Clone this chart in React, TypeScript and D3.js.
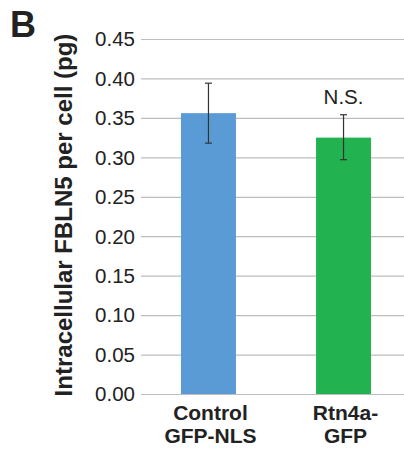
import { useEffect, useRef } from 'react';
import * as d3 from 'd3';

const categories = ['Control\nGFP-NLS', 'Rtn4a-\nGFP'];
const means = [0.356, 0.325];
const errLow = [0.318, 0.297];
const errHigh = [0.394, 0.354];
const barColors = ['#5b9bd5', '#22b24f'];
const yTicks = [0, 0.05, 0.1, 0.15, 0.2, 0.25, 0.3, 0.35, 0.4, 0.45];
const annotations = ['', 'N.S.'];

const App = () => {
    const ref = useRef<SVGSVGElement>(null);

    useEffect(() => {
        const width = 404;
        const height = 452;
        const marginLeft = 141;
        const svg = d3.select(ref.current);
        svg.selectAll('*').remove();
        svg.attr('width', width).attr('height', height)
            .style('font-family', '"Liberation Sans", Arial, sans-serif');

        const x = d3.scaleBand()
            .domain(categories)
            .range([marginLeft, marginLeft + 270])
            .paddingInner(0.593)
            .paddingOuter(0.296);

        const y = d3.scaleLinear()
            .domain([0, 0.45])
            .range([394, 39]);

        // gridlines
        svg.append('g')
            .selectAll('line')
            .data(yTicks)
            .join('line')
            .attr('x1', marginLeft)
            .attr('x2', width)
            .attr('y1', d => y(d) + 0.5)
            .attr('y2', d => y(d) + 0.5)
            .attr('stroke', '#bdbdbd')
            .attr('stroke-width', 1.2);

        svg.append('g')
            .selectAll('text')
            .data(yTicks)
            .join('text')
            .attr('x', 135)
            .attr('y', d => y(d))
            .attr('dy', '0.36em')
            .attr('text-anchor', 'end')
            .attr('font-size', 20.5)
            .attr('fill', '#222')
            .text(d => d.toFixed(2));

        // bars
        svg.append('g')
            .selectAll('rect')
            .data(means)
            .join('rect')
            .attr('x', (d, i) => x(categories[i])!)
            .attr('width', x.bandwidth())
            .attr('y', d => y(d))
            .attr('height', d => y(0) - y(d))
            .attr('fill', (d, i) => barColors[i]);

        // error bars
        const eb = svg.append('g')
            .attr('stroke', '#333')
            .attr('stroke-width', 1.2);
        categories.forEach((c, i) => {
            const cx = x(c)! + x.bandwidth() / 2;
            eb.append('line').attr('x1', cx).attr('x2', cx)
                .attr('y1', y(errLow[i])).attr('y2', y(errHigh[i]));
            [errLow[i], errHigh[i]].forEach(v => {
                eb.append('line').attr('x1', cx - 3.5).attr('x2', cx + 3.5)
                    .attr('y1', y(v)).attr('y2', y(v));
            });
            if (annotations[i]) {
                svg.append('text')
                    .attr('x', cx)
                    .attr('y', y(errHigh[i]) - 11)
                    .attr('text-anchor', 'middle')
                    .attr('font-size', 20.5)
                    .attr('fill', '#222')
                    .text(annotations[i]);
            }
            const lines = c.split('\n');
            lines.forEach((l, j) => {
                svg.append('text')
                    .attr('x', cx + 2)
                    .attr('y', 420 + j * 23.3)
                    .attr('text-anchor', 'middle')
                    .attr('font-size', 21)
                    .attr('font-weight', 'bold')
                    .attr('fill', '#222')
                    .text(l);
            });
        });

        svg.append('text')
            .attr('transform', `translate(72,215) rotate(-90)`)
            .attr('text-anchor', 'middle')
            .attr('font-size', 24)
            .attr('font-weight', 'bold')
            .attr('fill', '#222')
            .text('Intracellular FBLN5 per cell (pg)');

        svg.append('text')
            .attr('x', 10)
            .attr('y', 37)
            .attr('font-size', 36)
            .attr('font-weight', 'bold')
            .attr('fill', '#222')
            .text('B');
    }, []);

    return <svg ref={ref} style={{ position: 'absolute', left: 0, top: 0 }} />;
};

export default App;
